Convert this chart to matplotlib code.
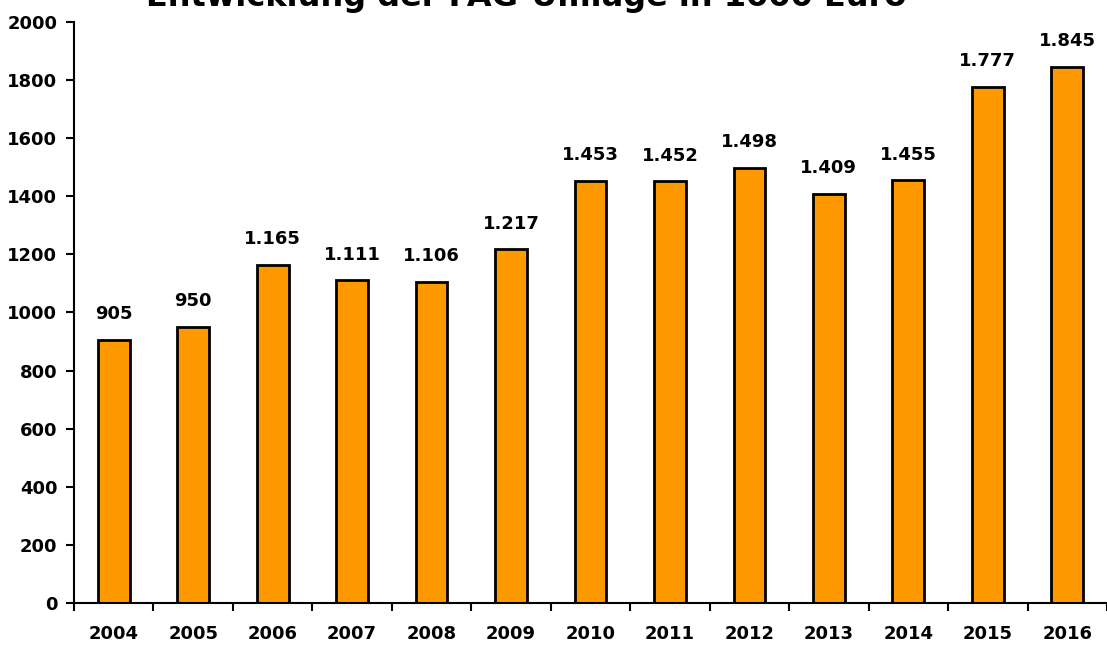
import matplotlib.pyplot as plt
import numpy as np

# Entwicklung der FAG-Umlage (in 1000 Euro)
years = ["2004", "2005", "2006", "2007", "2008", "2009", "2010",
         "2011", "2012", "2013", "2014", "2015", "2016"]
values = [905, 950, 1165, 1111, 1106, 1217, 1453, 1452, 1498, 1409, 1455, 1777, 1845]
title = "Entwicklung der FAG-Umlage in 1000 Euro"

plt.rcParams['font.family'] = ['DejaVu Sans']
plt.rcParams['font.weight'] = 'bold'

fig = plt.figure(figsize=(11.07, 6.49), dpi=100)
ax = fig.add_axes([0.0668, 0.0709, 0.9332, 0.8952])

x = np.arange(len(years))
bars = ax.bar(x, values, width=0.4, color="#FF9900", edgecolor="black", linewidth=2)

# value labels with german thousands separator
for xi, v in zip(x, values):
    lab = f"{v:,}".replace(",", ".")
    ax.annotate(lab, (xi, v), xytext=(0, 12), textcoords="offset points",
                ha="center", va="bottom", fontsize=13, fontweight="bold")

ax.set_xlim(-0.5, len(years) - 0.5)
ax.set_ylim(0, 2000)
ax.set_yticks(range(0, 2001, 200))
ax.set_xticks(x)
ax.set_xticklabels(years)
ax.set_xticks(np.arange(-0.5, len(years), 1), minor=True)
ax.tick_params(axis="x", which="major", length=0, pad=16, labelsize=13)
ax.tick_params(axis="x", which="minor", length=6, width=1.5, direction="out")
ax.tick_params(axis="y", length=6, width=1.5, labelsize=13, pad=6)

for s in ["top", "right"]:
    ax.spines[s].set_visible(False)
for s in ["left", "bottom"]:
    ax.spines[s].set_linewidth(1.5)

fig.text(0.4756, 0.99, title, ha="center", va="baseline", fontsize=23, fontweight="bold")

fig.savefig("out.png", dpi=100)
